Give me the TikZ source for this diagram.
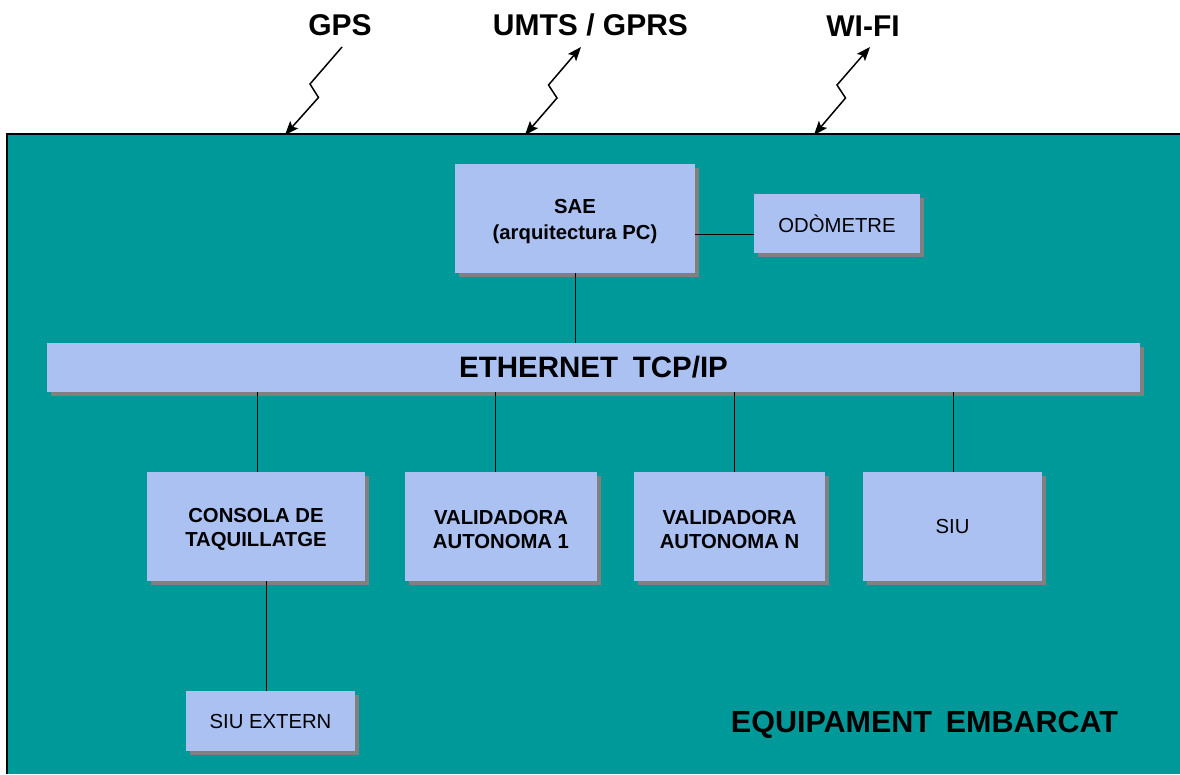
\documentclass[tikz,border=0pt]{standalone}
\usepackage{fontspec}
\setmainfont{Liberation Sans}
\usetikzlibrary{shadows,calc}
\definecolor{teal1}{HTML}{009999}
\definecolor{boxc}{HTML}{AAC1F2}
\definecolor{shad}{HTML}{808080}
\begin{document}
\begin{tikzpicture}[x=1pt,y=-1pt,
  blk/.style={fill=boxc, inner sep=0pt, align=center, text=black,
    general shadow={fill=shad, shadow xshift=4pt, shadow yshift=-4pt}},
  bt/.style={font=\bfseries\fontsize{20.3}{24.5}\selectfont, align=center},
  nt/.style={font=\fontsize{20.3}{24.5}\selectfont, align=center},
  two/.style={label={[bt, inner sep=0pt, yshift=-3pt]center:{#1}}},
  title/.style={font=\bfseries\fontsize{30}{32}\selectfont, inner sep=0pt},
  conn/.style={draw=black, line width=1pt},
  bolt/.style={draw=black, line width=1.5pt},
  head/.style={fill=black}
]
\useasboundingbox (0,0) rectangle (1180,774);
\fill[white] (0,0) rectangle (1180,774);
% teal area
\fill[teal1] (7,134) rectangle (1180,774);
\draw[black, line width=1.2pt] (7,774) -- (7,134) -- (1180,134);

% titles
\node[title] (gps) at (340,25) {GPS};
\node[title] (umts) at (590.5,25) {UMTS / GPRS};
\node[title] (wifi) at (863,26) {WI-FI};

% bolts
\coordinate (g0) at (342,47);
\coordinate (ga) at (310,84);
\coordinate (gb) at (318.5,97.5);
\coordinate (g1) at (285,135);
\coordinate (u0) at (581,47);
\coordinate (ua) at (548.5,85);
\coordinate (ub) at (557,98);
\coordinate (u1) at (525,135);
\coordinate (w0) at (870,47);
\coordinate (wa) at (837,85);
\coordinate (wb) at (845.5,98);
\coordinate (w1) at (814,135);
\draw[bolt] (g0) -- (ga) -- (gb) -- ($(g1)!6pt!(gb)$);
\draw[bolt] ($(u0)!6pt!(ua)$) -- (ua) -- (ub) -- ($(u1)!6pt!(ub)$);
\draw[bolt] ($(w0)!6pt!(wa)$) -- (wa) -- (wb) -- ($(w1)!6pt!(wb)$);
% arrow heads
\foreach \t/\k in {g1/gb, u1/ub, u0/ua, w1/wb, w0/wa}{
  \fill[head] (\t) -- ($($(\t)!14pt!(\k)$)!5.5pt!90:(\t)$) -- ($(\t)!11pt!(\k)$) -- ($($(\t)!14pt!(\k)$)!5.5pt!-90:(\t)$) -- cycle;
}

% boxes
\node[blk, minimum width=240pt, minimum height=109pt, label={[bt, inner sep=0pt, yshift=-3.5pt]center:{SAE\\[1.5pt](arquitectura PC)}}] (sae) at (575,218.5) {};
\node[blk, nt, minimum width=166pt, minimum height=59pt] (odo) at (837,223.5) {ODÒMETRE};
\node[blk, font=\bfseries\fontsize{29.5}{30}\selectfont, minimum width=1093pt, minimum height=49pt] (eth) at (593.5,367.5) {ETHERNET\hspace{0.5em}TCP/IP};
\node[blk, two={CONSOLA DE\\TAQUILLATGE}, minimum width=218pt, minimum height=109pt] (con) at (256,526.5) {};
\node[blk, two={VALIDADORA\\AUTONOMA 1}, minimum width=192pt, minimum height=109pt] (v1) at (501,526.5) {};
\node[blk, two={VALIDADORA\\AUTONOMA N}, minimum width=191pt, minimum height=109pt] (vn) at (729.5,526.5) {};
\node[blk, nt, minimum width=179pt, minimum height=109pt] (siu) at (952.5,526.5) {SIU};
\node[blk, nt, minimum width=169pt, minimum height=60pt] (sx) at (270.5,721) {SIU EXTERN};

\node[font=\bfseries\fontsize{30.5}{34}\selectfont, inner sep=0pt] (eq) at (924.5,725) {EQUIPAMENT\hspace{0.45em}EMBARCAT};

% connectors
\draw[conn] (sae.south) -- (sae.south |- eth.north);
\draw[conn] ([yshift=-15.5pt]sae.east) -- ([yshift=-15.5pt]sae.east -| odo.west);
\draw[conn] ([xshift=1pt]con.north) -- ([xshift=1pt]con.north |- eth.south);
\draw[conn] ([xshift=-6pt]v1.north) -- ([xshift=-6pt]v1.north |- eth.south);
\draw[conn] ([xshift=4.5pt]vn.north) -- ([xshift=4.5pt]vn.north |- eth.south);
\draw[conn] ([xshift=0.5pt]siu.north) -- ([xshift=0.5pt]siu.north |- eth.south);
\draw[conn] ([xshift=10pt]con.south) -- ([xshift=10pt]con.south |- sx.north);
\end{tikzpicture}
\end{document}
